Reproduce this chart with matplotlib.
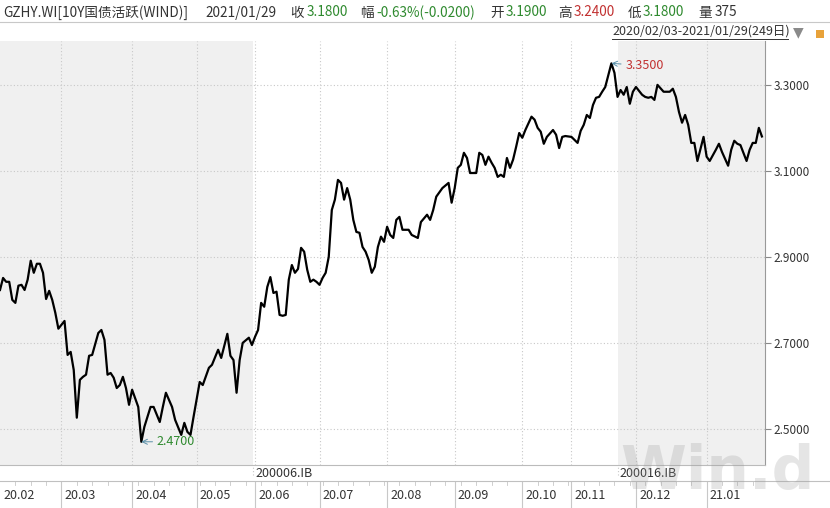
import matplotlib.pyplot as plt
from matplotlib.patches import Rectangle

plt.rcParams['font.family'] = ['Noto Sans CJK SC', 'DejaVu Sans']

# trading-day index (0..248) and 10Y yield
day_idx = [
    0, 1, 2, 3, 4, 5, 6, 7, 8, 9, 10, 11, 12, 13, 14, 15, 16, 17, 18, 19,
    20, 21, 22, 23, 24, 25, 26, 27, 28, 29, 30, 32, 33, 34, 35, 36, 37, 38, 39, 40,
    41, 42, 43, 45, 46, 47, 48, 49, 50, 52, 53, 54, 56, 57, 59, 60, 61, 62, 63, 65,
    66, 68, 69, 71, 72, 74, 75, 76, 77, 78, 79, 81, 82, 83, 84, 85, 86, 87, 88, 89,
    90, 91, 92, 93, 94, 95, 96, 97, 98, 99, 100, 101, 102, 103, 104, 105, 106, 107, 108, 109,
    110, 111, 112, 113, 114, 115, 116, 117, 118, 119, 120, 121, 122, 123, 124, 125, 126, 127, 128, 129,
    130, 131, 133, 134, 136, 137, 139, 140, 141, 142, 144, 146, 147, 148, 149, 150, 151, 152, 153, 155,
    156, 157, 158, 159, 160, 161, 162, 163, 164, 165, 166, 167, 168, 169, 170, 171, 173, 174, 175, 176,
    177, 178, 180, 181, 182, 183, 184, 186, 187, 188, 189, 190, 191, 192, 193, 194, 195, 196, 197, 199,
    200, 201, 202, 203, 204, 205, 206, 207, 209, 210, 211, 212, 213, 214, 216, 218, 219, 220, 221, 222,
    223, 224, 225, 226, 227, 229, 230, 231, 233, 234, 235, 237, 238, 239, 240, 241, 243, 244, 245, 246,
    247, 248,
]
yield_vals = [
    2.823, 2.851, 2.842, 2.842, 2.800, 2.793, 2.833, 2.835, 2.823, 2.847, 2.891, 2.863, 2.884, 2.884, 2.863, 2.802, 2.821, 2.800, 2.770, 2.733,
    2.742, 2.751, 2.672, 2.679, 2.637, 2.526, 2.614, 2.621, 2.626, 2.670, 2.672, 2.723, 2.730, 2.707, 2.626, 2.630, 2.619, 2.595, 2.602, 2.621,
    2.595, 2.556, 2.591, 2.551, 2.470, 2.505, 2.528, 2.551, 2.551, 2.516, 2.551, 2.584, 2.551, 2.521, 2.486, 2.514, 2.493, 2.486, 2.528, 2.609,
    2.602, 2.642, 2.649, 2.684, 2.665, 2.721, 2.670, 2.660, 2.584, 2.660, 2.700, 2.712, 2.695, 2.714, 2.730, 2.793, 2.784, 2.830, 2.853, 2.816,
    2.819, 2.765, 2.763, 2.765, 2.847, 2.881, 2.863, 2.872, 2.921, 2.912, 2.870, 2.842, 2.847, 2.842, 2.835, 2.851, 2.863, 2.900, 3.009, 3.033,
    3.079, 3.072, 3.033, 3.060, 3.033, 2.986, 2.958, 2.956, 2.923, 2.912, 2.893, 2.863, 2.877, 2.923, 2.947, 2.935, 2.970, 2.951, 2.944, 2.986,
    2.993, 2.963, 2.963, 2.951, 2.944, 2.981, 2.998, 2.986, 3.009, 3.040, 3.060, 3.072, 3.026, 3.060, 3.107, 3.114, 3.142, 3.130, 3.095, 3.095,
    3.142, 3.137, 3.114, 3.133, 3.119, 3.107, 3.086, 3.091, 3.086, 3.130, 3.107, 3.126, 3.156, 3.188, 3.177, 3.195, 3.226, 3.219, 3.200, 3.191,
    3.163, 3.179, 3.195, 3.184, 3.153, 3.179, 3.181, 3.179, 3.172, 3.165, 3.193, 3.207, 3.230, 3.223, 3.253, 3.270, 3.272, 3.284, 3.295, 3.350,
    3.328, 3.272, 3.288, 3.277, 3.295, 3.256, 3.284, 3.295, 3.277, 3.272, 3.270, 3.272, 3.265, 3.300, 3.284, 3.284, 3.291, 3.272, 3.237, 3.212,
    3.230, 3.207, 3.165, 3.165, 3.123, 3.179, 3.133, 3.123, 3.149, 3.163, 3.144, 3.112, 3.149, 3.170, 3.163, 3.160, 3.123, 3.149, 3.165, 3.165,
    3.200, 3.180,
]

n_days = 249
month_labels = ['20.02', '20.03', '20.04', '20.05', '20.06', '20.07', '20.08',
                '20.09', '20.10', '20.11', '20.12', '21.01']
month_start = [0, 20, 43, 64, 83, 104, 126, 148, 170, 186, 207, 230]
bond_names = ['200006.IB', '200016.IB']
bond_start = [82.5, 201]
y_ticks = [2.5, 2.7, 2.9, 3.1, 3.3]

GRID = '#c8c8c8'
SHADE = '#f0f0f0'
TXT = '#333333'
GREEN = '#2f8a2f'
RED = '#c23131'

fig = plt.figure(figsize=(8.3, 5.08), dpi=100)
W, H = 830, 508


def fx(px):
    return px / W


def fy(py):
    return 1 - py / H


# main chart
ax = fig.add_axes([0, fy(465), fx(765), fy(41) - fy(465)])
ax.set_xlim(0, n_days)
ax.set_ylim(2.416, 3.402)
ax.axvspan(0, bond_start[0], color=SHADE, lw=0, zorder=0)
ax.axvspan(bond_start[1], n_days, color=SHADE, lw=0, zorder=0)
for m in month_start[1:]:
    ax.axvline(m, color=GRID, ls=(0, (1, 2)), lw=0.8, zorder=1)
for t in y_ticks:
    ax.axhline(t, color=GRID, ls=(0, (1, 2)), lw=0.8, zorder=1)
ax.plot(day_idx, yield_vals, color='black', lw=1.6, zorder=3)

imax = yield_vals.index(max(yield_vals))
imin = yield_vals.index(min(yield_vals))
ax.annotate(f'{max(yield_vals):.4f}', xy=(day_idx[imax], yield_vals[imax]),
            xytext=(day_idx[imax] + 4.5, yield_vals[imax] - 0.005),
            color=RED, fontsize=9, va='center',
            arrowprops=dict(arrowstyle='->', color='#5a8fa8', lw=0.7, shrinkA=1, shrinkB=0))
ax.annotate(f'{min(yield_vals):.4f}', xy=(day_idx[imin], yield_vals[imin]),
            xytext=(day_idx[imin] + 5, yield_vals[imin]),
            color=GREEN, fontsize=9, va='center',
            arrowprops=dict(arrowstyle='->', color='#5a8fa8', lw=0.7, shrinkA=1, shrinkB=0))

ax.yaxis.tick_right()
ax.set_yticks(y_ticks)
ax.set_yticklabels([f'{t:.4f}' for t in y_ticks], fontsize=8.5, color=TXT)
ax.tick_params(axis='y', length=4, width=0.8, color='#888888', pad=2)
ax.set_xticks([])
for s in ['left', 'top']:
    ax.spines[s].set_visible(False)
ax.spines['right'].set_color('#999999')
ax.spines['bottom'].set_color('#bbbbbb')

# bond band
bx = fig.add_axes([0, fy(481), fx(765), fy(465) - fy(481)])
bx.set_xlim(0, n_days)
bx.set_ylim(0, 1)
bx.axis('off')
for name, start in zip(bond_names, bond_start):
    bx.axvline(start, ymin=0.4, color=GRID, ls=(0, (1, 2)), lw=0.8)
    bx.text(start + 0.5, 0.45, name, fontsize=9, color=TXT, va='center', ha='left')
fig.add_artist(plt.Line2D([0, 1], [fy(481), fy(481)], color='#c0c0c0', lw=0.8))

# month band
mx = fig.add_axes([0, 0, fx(765), fy(481)])
mx.set_xlim(0, n_days)
mx.set_ylim(0, 1)
mx.axis('off')
for lab, start in zip(month_labels, month_start):
    if start > 0:
        mx.axvline(start, color='#c8c8c8', lw=0.8)
    mx.text(start + 1, 0.45, lab, fontsize=9, color=TXT, va='center', ha='left')
for d in range(5, n_days, 5):
    mx.plot([d, d], [0.86, 1.0], color='#c8c8c8', lw=0.6)

# header
fig.add_artist(plt.Line2D([0, 1], [fy(21.5), fy(21.5)], color='#c8c8c8', lw=0.8))
hy = fy(12.5)
header = [
    (3, 'GZHY.WI[10Y国债活跃(WIND)]', TXT),
    (205, '2021/01/29', TXT),
    (290, '收', TXT), (307, '3.1800', GREEN),
    (360, '幅', TXT), (376, '-0.63%(-0.0200)', GREEN),
    (490, '开', TXT), (506, '3.1900', GREEN),
    (558, '高', TXT), (574, '3.2400', RED),
    (628, '低', TXT), (643, '3.1800', GREEN),
    (698, '量', TXT), (715, '375', TXT),
]
for px, s, c in header:
    fig.text(fx(px), hy, s, fontsize=9.8, color=c, va='center', ha='left')

fig.text(fx(612), fy(31.5), '2020/02/03-2021/01/29(249日)', fontsize=9,
         color=TXT, va='center', ha='left')
fig.add_artist(plt.Line2D([fx(612), fx(788)], [fy(39), fy(39)], color=TXT, lw=0.7))
fig.text(fx(793), fy(32), '▼', fontsize=10, color='#8a8a8a', va='center', ha='left',
         family='DejaVu Sans')
fig.add_artist(Rectangle((fx(816), fy(38)), fx(8), fy(30) - fy(38),
                         transform=fig.transFigure, color='#e8a23a', lw=0))

# watermark, translucent over everything
fig.text(fx(620), fy(472), 'Win.d', fontsize=43, fontweight='bold', color='#9a9a9a',
         alpha=0.25, va='center', ha='left', family='DejaVu Sans')

fig.savefig('out.png', dpi=100, facecolor='white')
